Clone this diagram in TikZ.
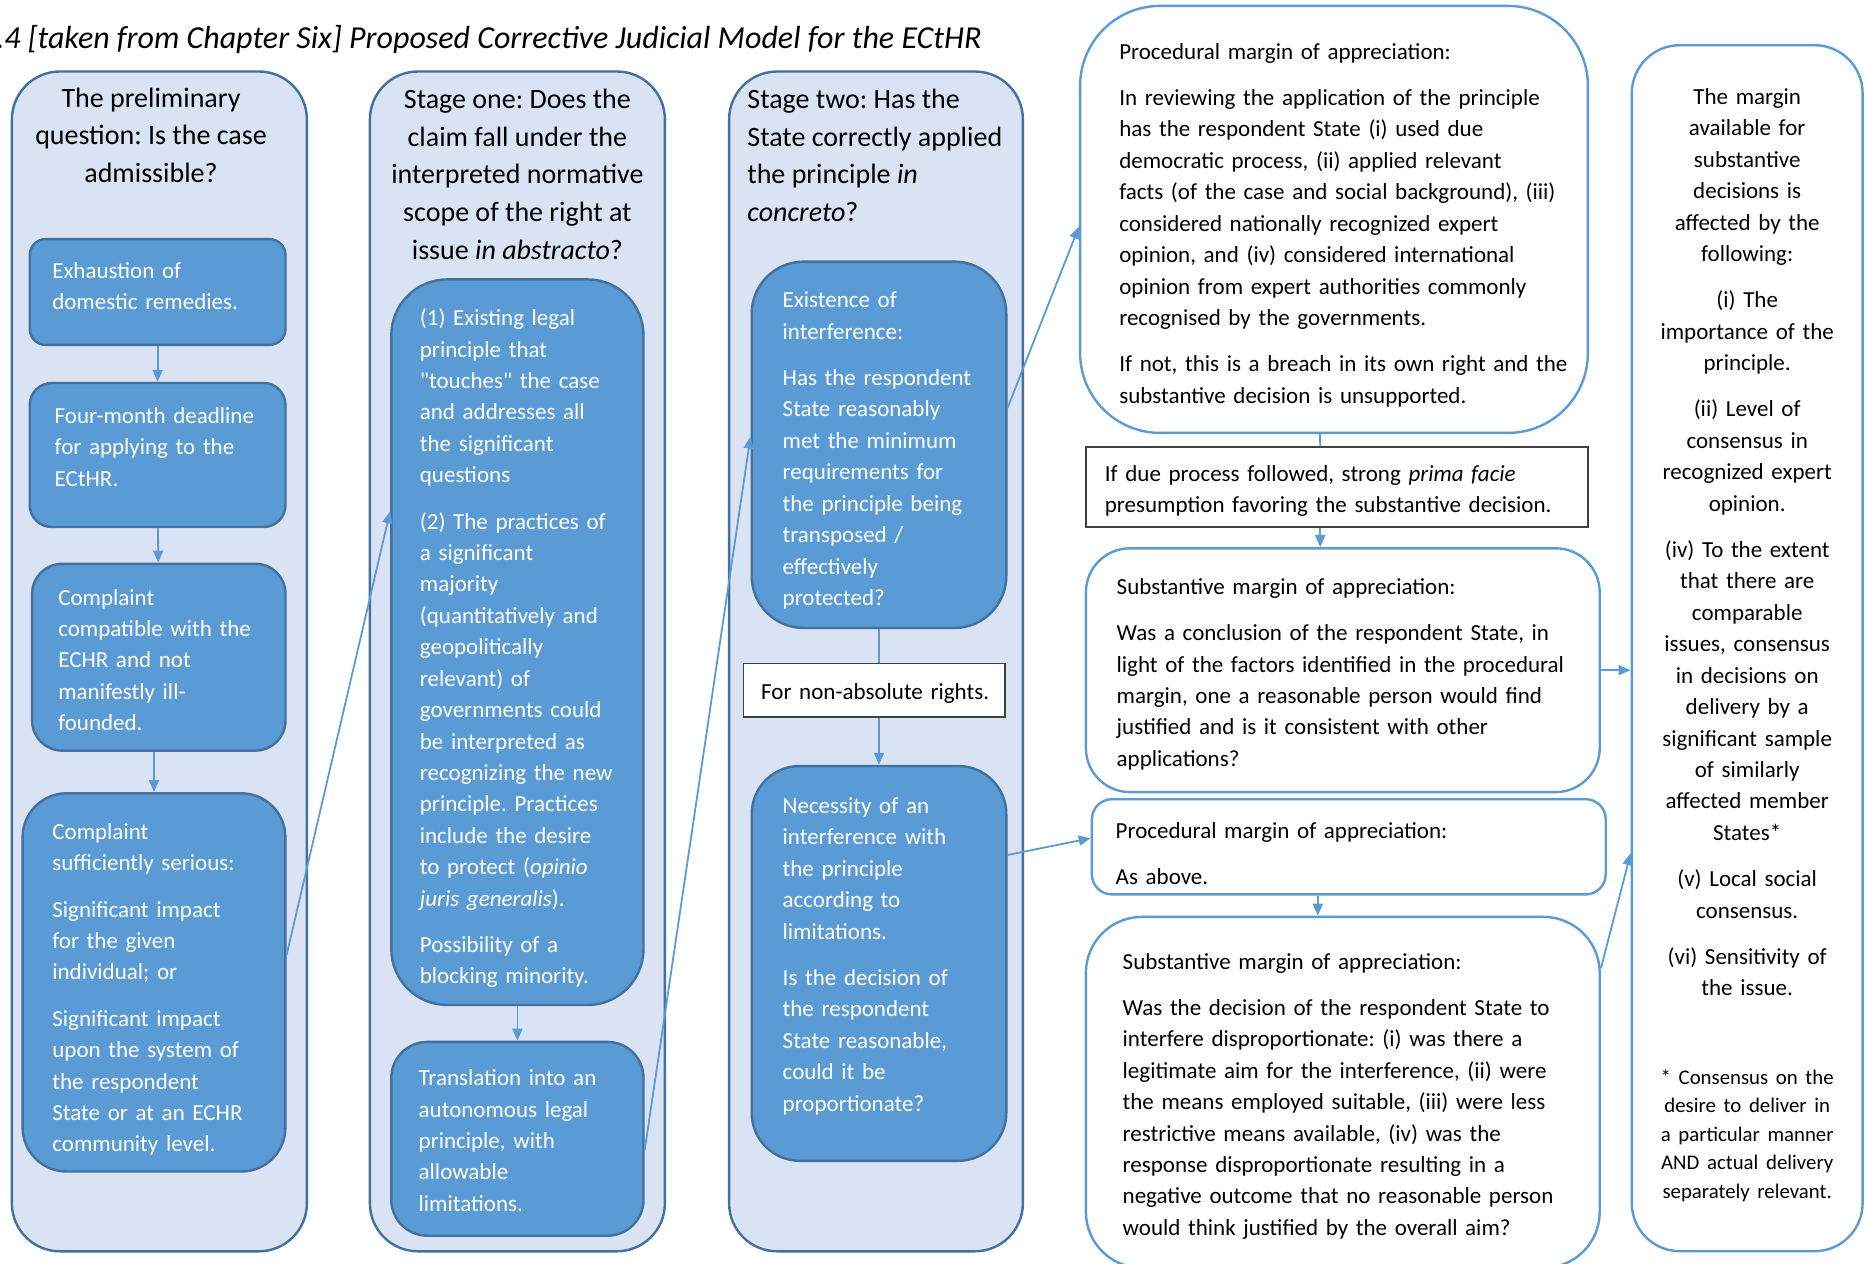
\documentclass[tikz,border=0pt]{standalone}
\usepackage{fontspec}
\setmainfont{Carlito}
\usepackage{tikz}
\usetikzlibrary{positioning}
\usetikzlibrary{arrows.meta}
\definecolor[named]{paleblue}{RGB}{218,227,243}
\definecolor[named]{boxblue}{RGB}{91,155,213}
\definecolor[named]{edgeblue}{RGB}{65,113,156}
\newcommand{\bodysize}{\fontsize{11.5}{15.72}\selectfont}
\newcommand{\headsize}{\fontsize{14}{18.8}\selectfont}
\newcommand{\notesize}{\fontsize{10.4}{14.27}\selectfont}
\frenchspacing

\begin{document}
\begin{tikzpicture}
    [x=1pt,y=-1pt,
    column/.style={rectangle,rounded corners=24pt,fill=paleblue,draw=edgeblue,line width=1.2pt,minimum width=147.5pt,minimum height=589.9pt},
    head/.style={font=\headsize,inner sep=0pt},
    lpad/.style={execute at begin node={\leftskip=#1}},
    toppad/.style={execute at begin node={\rule{0pt}{#1}}},
    botpad/.style={execute at end node={\rule[-#1]{0pt}{#1}}},
    crit/.style={rectangle,fill=boxblue,draw=edgeblue,line width=1.2pt,text=white,align=left,font=\bodysize,inner sep=0pt},
    margin/.style={rectangle,fill=white,draw=boxblue,line width=1.2pt,align=left,font=\bodysize,inner sep=0pt},
    plain/.style={rectangle,fill=white,draw=black!75,line width=0.8pt,align=left,font=\bodysize,inner sep=0pt},
    link/.style={draw=boxblue,line width=0.9pt},
    flow/.style={link,-{Triangle[length=6pt,width=5pt]}}]
    \useasboundingbox (0,0) rectangle (932.5,631.6);
    \node [anchor=west,inner sep=0pt,font=\fontsize{16}{19}\selectfont\itshape] (Title) at (-2,19.6) {.4 [taken from Chapter Six] Proposed Corrective Judicial Model for the ECtHR};
    \node [column] (Prelim) at (79.7,330.7) {};
    \node [column] (StageOne) at (258.7,330.7) {};
    \node [column,minimum width=146.9pt] (StageTwo) at (438.0,330.7) {};
    \node [head,align=center] (PrelimHead) at (75.5,67.5) {The preliminary\\question: Is the case\\admissible?};
    \node [head,align=center] (OneHead) at (258.7,87.1) {Stage one: Does the\\claim fall under the\\interpreted normative\\scope of the right at\\issue \textit{in abstracto}?};
    \node [head,align=left,anchor=west] (TwoHead) at (373.5,77.6) {Stage two: Has the\\State correctly applied\\the principle \textit{in}\\\textit{concreto}?};
    \node [crit,rounded corners=8pt,minimum height=52.9pt,text width=127.9pt,lpad=11.3pt,toppad=10.72pt,botpad=9pt] (Exhaust) at (78.8,146.0) {Exhaustion of\\domestic remedies.};
    \node [crit,rounded corners=11pt,minimum height=72.0pt,text width=127.9pt,lpad=12.5pt,toppad=10.56pt,botpad=11pt] (Deadline) at (78.8,227.5) {Four-month deadline\\for applying to the\\ECtHR.};
    \node [crit,rounded corners=15pt,minimum height=93.4pt,text width=126.7pt,lpad=13.1pt,toppad=14.78pt,botpad=4pt] (Compatible) at (79.4,328.6) {Complaint\\compatible with the\\ECHR and not\\manifestly ill-\\founded.};
    \node [crit,rounded corners=22pt,minimum height=189.1pt,text width=131.4pt,lpad=14.9pt,toppad=17.28pt,botpad=4pt] (Serious) at (77.0,491.2) {Complaint\\sufficiently serious:\\[7.4pt]Significant impact\\for the given\\individual; or\\[7.4pt]Significant impact\\upon the system of\\the respondent\\State or at an ECHR\\community level.};
    \node [crit,rounded corners=28pt,minimum height=362.8pt,text width=126.1pt,lpad=14.3pt,toppad=16.58pt,botpad=4pt] (Principle) at (258.7,321.1) {(1) Existing legal\\principle that\\\textquotedbl touches\textquotedbl{} the case\\and addresses all\\the significant\\questions\\[7.4pt](2) The practices of\\a significant\\majority\\(quantitatively and\\geopolitically\\relevant) of\\governments could\\be interpreted as\\recognizing the new\\principle. Practices\\include the desire\\to protect (\textit{opinio}\\\textit{juris generalis}).\\[7.4pt]Possibility of a\\blocking minority.};
    \node [crit,rounded corners=18pt,minimum height=96.9pt,text width=126.1pt,lpad=13.7pt,toppad=13.68pt,botpad=4pt] (Translate) at (258.7,569.4) {Translation into an\\autonomous legal\\principle, with\\allowable\\limitations.};
    \node [crit,rounded corners=26pt,minimum height=183.2pt,text width=127.3pt,lpad=15.5pt,toppad=15.82pt,botpad=4pt] (Interfere) at (439.5,222.4) {Existence of\\interference:\\[7.4pt]Has the respondent\\State reasonably\\met the minimum\\requirements for\\the principle being\\transposed /\\effectively\\protected?};
    \node [plain,minimum height=26.8pt,text width=130.8pt,lpad=8.9pt,toppad=12.66pt,botpad=4pt] (NonAbs) at (437.1,345.2) {For non-absolute rights.};
    \node [crit,rounded corners=24pt,minimum height=197.4pt,text width=127.3pt,lpad=15.5pt,toppad=10.72pt,botpad=12pt] (Necessity) at (439.5,481.7) {Necessity of an\\interference with\\the principle\\according to\\limitations.\\[7.4pt]Is the decision of\\the respondent\\State reasonable,\\could it be\\proportionate?};
    \node [margin,rounded corners=40pt,minimum height=213.5pt,text width=253.9pt,lpad=19.6pt,toppad=15.76pt,botpad=4pt] (ProcOne) at (667.0,109.7) {Procedural margin of appreciation:\\[7.4pt]In reviewing the application of the principle\\has the respondent State (i) used due\\democratic process, (ii) applied relevant\\facts (of the case and social background), (iii)\\considered nationally recognized expert\\opinion, and (iv) considered international\\opinion from expert authorities commonly\\recognised by the governments.\\[7.4pt]If not, this is a breach in its own right and the\\substantive decision is unsupported.};
    \node [plain,minimum height=39.8pt,text width=250.9pt,lpad=9.5pt,toppad=14.12pt,botpad=4pt] (Presume) at (668.4,243.5) {If due process followed, strong \textit{prima facie}\\presumption favoring the substantive decision.};
    \node [margin,rounded corners=22pt,minimum height=121.9pt,text width=256.9pt,lpad=15.4pt,toppad=14.18pt,botpad=4pt] (SubOne) at (671.4,335.1) {Substantive margin of appreciation:\\[7.4pt]Was a conclusion of the respondent State, in\\light of the factors identified in the procedural\\margin, one a reasonable person would find\\justified and is it consistent with other\\applications?};
    \node [margin,rounded corners=10pt,minimum height=47.6pt,text width=256.9pt,lpad=11.9pt,toppad=18.54pt,botpad=4pt] (ProcTwo) at (674.4,423.4) {Procedural margin of appreciation:\\[7.4pt]As above.};
    \node [margin,rounded corners=28pt,minimum height=175.5pt,text width=256.9pt,lpad=18.4pt,toppad=13.8pt,botpad=4pt] (SubTwo) at (671.4,546.2) {Substantive margin of appreciation:\\[7.4pt]Was the decision of the respondent State to\\interfere disproportionate: (i) was there a\\legitimate aim for the interference, (ii) were\\the means employed suitable, (iii) were less\\restrictive means available, (iv) was the\\response disproportionate resulting in a\\negative outcome that no reasonable person\\would think justified by the overall aim?};
    \node [margin,align=center,rounded corners=24pt,minimum height=603pt,text width=115.4pt,toppad=11.23pt] (Margin) at (873.6,324.1) {The margin\\available for\\substantive\\decisions is\\affected by the\\following:\\[7.4pt](i) The\\importance of the\\principle.\\[7.4pt](ii) Level of\\consensus in\\recognized expert\\opinion.\\[7.4pt](iv) To the extent\\that there are\\comparable\\issues, consensus\\in decisions on\\delivery by a\\significant sample\\of similarly\\affected member\\States*\\[7.4pt](v) Local social\\consensus.\\[7.4pt](vi) Sensitivity of\\the issue.\par\vspace{30pt}{\notesize * Consensus on the\\desire to deliver in\\a particular manner\\AND actual delivery\\separately relevant.\rule[-8pt]{0pt}{8pt}\par}};
    \draw[flow] (Exhaust) -- (Deadline);
    \draw[flow] (Deadline) -- (Compatible);
    \draw[flow] (Compatible.south -| Serious.north) -- (Serious.north);
    \draw[flow] (Principle) -- (Translate);
    \draw[link] (Interfere.south) -- (Interfere.south |- NonAbs.north);
    \draw[flow] (NonAbs.south -| Interfere.south) -- (Necessity.north);
    \draw[flow] ([yshift=13.7pt]Serious.east) -- ([yshift=65.4pt]Principle.west);
    \draw[flow] ([yshift=-5.7pt]Translate.east) -- ([yshift=4.1pt]Interfere.west);
    \draw[flow] ([yshift=18.4pt]Interfere.east) -- ([yshift=-3.7pt]ProcOne.west);
    \draw[flow] ([yshift=54.2pt]Necessity.east) -- ([yshift=4.3pt]ProcTwo.west);
    \draw[link] ([xshift=-7pt]ProcOne.south) -- ([xshift=-8.3pt]Presume.north);
    \draw[flow] ([xshift=-8.3pt]Presume.south) -- ([xshift=-11.3pt]SubOne.north);
    \draw[flow] ([xshift=-15.5pt]ProcTwo.south) -- ([xshift=-12.5pt]SubTwo.north);
    \draw[flow] (SubOne.east) -- (SubOne.east -| Margin.west);
    \draw[flow] ([yshift=62pt]SubTwo.east) -- ([yshift=-102.5pt]Margin.west);
\end{tikzpicture}
\end{document}
